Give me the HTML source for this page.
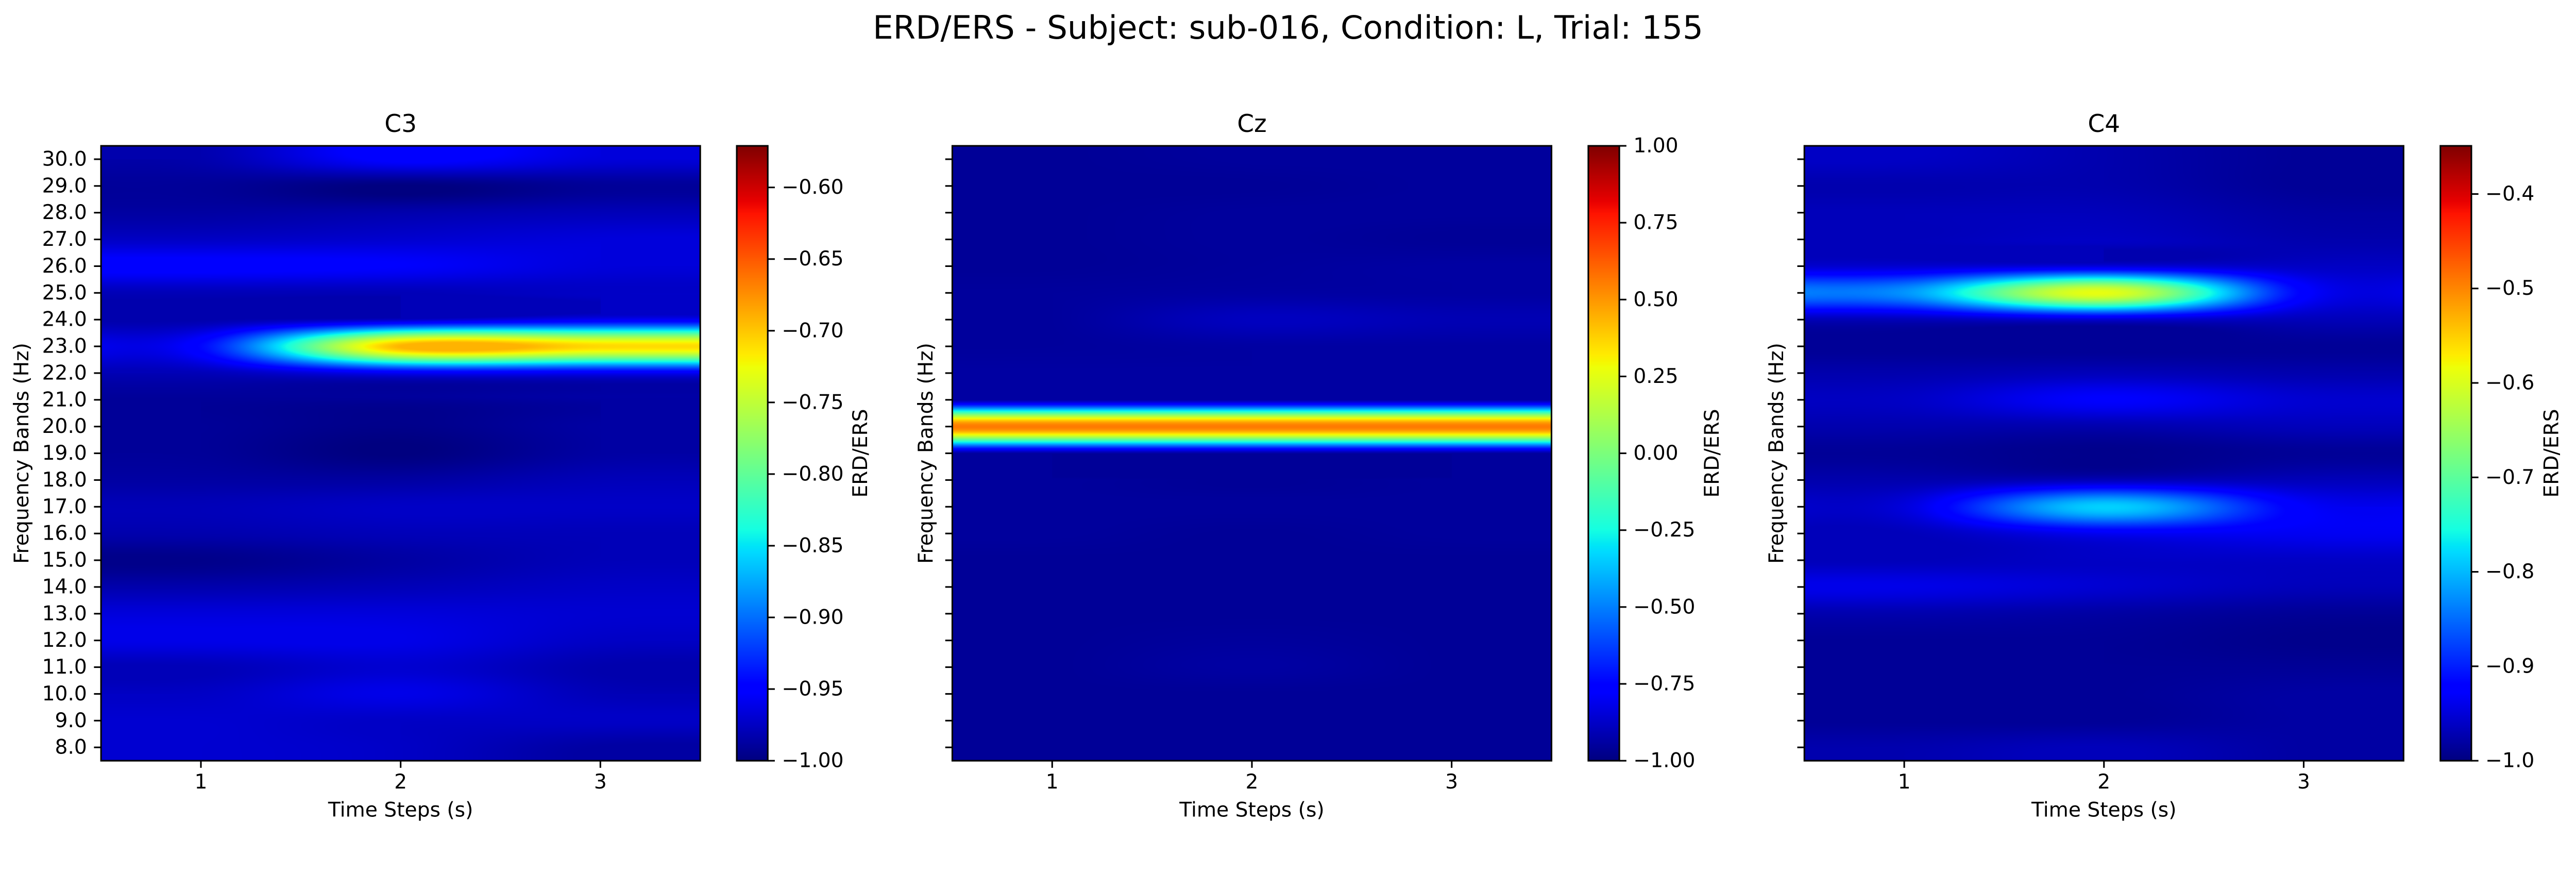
<!DOCTYPE html>
<html><head><meta charset="utf-8">
<meta name="viewport" content="width=5318">
<style>
html,body{margin:0;padding:0;background:#fff;overflow:hidden;}
#fig{position:absolute;left:0;top:0;width:5318px;height:1725px;overflow:hidden;background:#fff;font-family:"DejaVu Sans","Liberation Sans",sans-serif;transform-origin:0 0;}
canvas{position:absolute;display:block;}
svg{position:absolute;left:0;top:0;display:block;}
</style></head>
<body>
<div id="fig">
<canvas id="hm0"></canvas>
<canvas id="hm1"></canvas>
<canvas id="hm2"></canvas>
<canvas id="cb0"></canvas>
<canvas id="cb1"></canvas>
<canvas id="cb2"></canvas>
<svg id="ov" width="5318" height="1725" viewBox="0 0 5318 1725" xmlns="http://www.w3.org/2000/svg">
<text x="2659" y="57" font-size="66.7" text-anchor="middle" dominant-baseline="central">ERD/ERS - Subject: sub-016, Condition: L, Trial: 155</text>
</svg>
</div>
<script>
// ---- data ----
const freqs = [30,29,28,27,26,25,24,23,22,21,20,19,18,17,16,15,14,13,12,11,10,9,8];
const times = [1,2,3];
const channels = ["C3","Cz","C4"];
const c3Values = [
[-0.983,-0.949,-0.966],[-0.991,-1.0,-0.991],[-0.987,-0.983,-0.979],[-0.974,-0.970,-0.966],
[-0.949,-0.953,-0.966],[-0.979,-0.979,-0.974],[-0.983,-0.974,-0.957],[-0.944,-0.691,-0.708],
[-0.979,-0.957,-0.957],[-0.991,-0.991,-0.987],[-0.991,-0.996,-0.987],[-0.991,-1.0,-0.987],
[-0.987,-0.987,-0.979],[-0.979,-0.974,-0.974],[-0.983,-0.979,-0.979],[-0.996,-0.987,-0.979],
[-0.983,-0.979,-0.974],[-0.966,-0.966,-0.970],[-0.961,-0.961,-0.974],[-0.979,-0.970,-0.983],
[-0.974,-0.961,-0.979],[-0.970,-0.974,-0.974],[-0.970,-0.974,-0.987]];
const czValues = [
[-0.96,-0.95,-0.95],[-0.96,-0.96,-0.95],[-0.96,-0.95,-0.95],[-0.96,-0.95,-0.96],
[-0.96,-0.95,-0.94],[-0.95,-0.94,-0.94],[-0.95,-0.89,-0.91],[-0.95,-0.94,-0.94],
[-0.94,-0.94,-0.94],[-0.94,-0.94,-0.94],[0.56,0.56,0.56],[-0.94,-0.94,-0.94],
[-0.95,-0.96,-0.95],[-0.95,-0.95,-0.95],[-0.95,-0.96,-0.95],[-0.96,-0.96,-0.96],
[-0.96,-0.96,-0.96],[-0.96,-0.96,-0.96],[-0.96,-0.95,-0.96],[-0.96,-0.94,-0.96],
[-0.96,-0.96,-0.96],[-0.96,-0.96,-0.96],[-0.96,-0.96,-0.96]];
const c4Values = [
[-0.961,-0.974,-0.987],[-0.974,-0.974,-0.987],[-0.967,-0.967,-0.980],[-0.967,-0.961,-0.974],
[-0.954,-0.948,-0.961],[-0.824,-0.590,-0.922],[-0.967,-0.954,-0.967],[-0.987,-0.987,-0.987],
[-0.974,-0.967,-0.974],[-0.961,-0.928,-0.954],[-0.974,-0.974,-0.967],[-0.987,-0.993,-0.987],
[-0.974,-0.967,-0.967],[-0.948,-0.785,-0.928],[-0.967,-0.935,-0.935],[-0.967,-0.961,-0.961],
[-0.941,-0.954,-0.967],[-0.974,-0.980,-0.987],[-0.987,-0.987,-0.993],[-0.987,-0.987,-0.987],
[-0.987,-0.987,-0.980],[-0.987,-0.987,-0.980],[-0.974,-0.967,-0.980]];
const vmins = [-1.0,-1.0,-1.0];
const vmaxs = [-0.571,1.0,-0.349];
const yTickLabels = ["30.0","29.0","28.0","27.0","26.0","25.0","24.0","23.0","22.0","21.0","20.0","19.0","18.0","17.0","16.0","15.0","14.0","13.0","12.0","11.0","10.0","9.0","8.0"];
const xTickLabels = ["1","2","3"];
const cbTicks0 = [-1.00,-0.95,-0.90,-0.85,-0.80,-0.75,-0.70,-0.65,-0.60];
const cbTicks1 = [-1.00,-0.75,-0.50,-0.25,0.00,0.25,0.50,0.75,1.00];
const cbTicks2 = [-1.0,-0.9,-0.8,-0.7,-0.6,-0.5,-0.4];
const cbDecimals = [2,2,1];

// ---- fit figure to viewport width (uniform scale) ----
const fig=document.getElementById('fig');
function fit(){const s=(window.innerWidth||5318)/5318;
 fig.style.transform=(Math.abs(s-1)<0.002)?'none':`scale(${s})`;}
fit();window.addEventListener('resize',fit);

// ---- layout ----
const allValues=[c3Values,czValues,c4Values];
const allCbTicks=[cbTicks0,cbTicks1,cbTicks2];
const plotLeft=[208.6,1966,3725], plotTop=301, plotW=1237, plotH=1269;
const cbLeft=[1521,3279,5038], cbW=64;
const cbLabelX=[1777,3535,5268], yLabelX=[45,1912,3668];
const TL=14.6, TW=3.3, FS=41.7;
const svg=document.getElementById('ov');
const NS='http://www.w3.org/2000/svg';
function mk(tag,attrs,parent){const e=document.createElementNS(NS,tag);for(const k in attrs)e.setAttribute(k,attrs[k]);(parent||svg).appendChild(e);return e;}
function jet(n){n=Math.max(0,Math.min(1,n));
 const r=n<0.35?0:n<0.66?(n-0.35)/0.31:n<0.89?1:1-(n-0.89)/0.11*0.5;
 const g=n<0.125?0:n<0.375?(n-0.125)/0.25:n<0.64?1:n<0.91?1-(n-0.64)/0.27:0;
 const b=n<0.11?0.5+n/0.11*0.5:n<0.34?1:n<0.65?1-(n-0.34)/0.31:0;
 return [r*255,g*255,b*255];}
function cub(t){const a=-0.5;t=Math.abs(t);if(t<=1)return (a+2)*t*t*t-(a+3)*t*t+1;if(t<2)return a*t*t*t-5*a*t*t+8*a*t-4*a;return 0;}
function weights(pos,n){const i0=Math.floor(pos);const idx=[],w=[];for(let k=-1;k<=2;k++){const i=i0+k;idx.push(Math.max(0,Math.min(n-1,i)));w.push(cub(pos-i));}return [idx,w];}

for(let p=0;p<3;p++){
 const vals=allValues[p], vmin=vmins[p], vmax=vmaxs[p];
 const L=plotLeft[p];
 const xScale=t=>L+(t-(times[0]-0.5))/times.length*plotW;
 const yScale=f=>plotTop+(freqs[0]+0.5-f)/freqs.length*plotH;
 const cv=document.getElementById('hm'+p);
 const W=Math.round(plotW), H=Math.round(plotH);
 cv.width=W;cv.height=H;cv.style.left=L+'px';cv.style.top=plotTop+'px';
 cv.style.width=W+'px';cv.style.height=H+'px';
 const ctx=cv.getContext('2d');const img=ctx.createImageData(W,H);
 const nr=vals.length, nc=vals[0].length;
 const xw=[];for(let x=0;x<W;x++)xw.push(weights((x+0.5)/W*nc-0.5,nc));
 for(let y=0;y<H;y++){
  const [ri,rw]=weights((y+0.5)/H*nr-0.5,nr);
  for(let x=0;x<W;x++){
   const [ci,cw]=xw[x];let s=0;
   let lo=Infinity,hi=-Infinity;
   for(let a=0;a<4;a++){const row=vals[ri[a]];let rs=0;for(let b=0;b<4;b++){rs+=cw[b]*row[ci[b]];
     if(a>=1&&a<=2&&b>=1&&b<=2){const v=row[ci[b]];if(v<lo)lo=v;if(v>hi)hi=v;}}
    s+=rw[a]*rs;}
   if(s<lo)s=lo;if(s>hi)s=hi;
   const c=jet((s-vmin)/(vmax-vmin));const o=(y*W+x)*4;
   img.data[o]=c[0];img.data[o+1]=c[1];img.data[o+2]=c[2];img.data[o+3]=255;}
 }
 ctx.putImageData(img,0,0);
 const cb=document.getElementById('cb'+p);cb.width=cbW;cb.height=H;
 cb.style.left=cbLeft[p]+'px';cb.style.top=plotTop+'px';
 cb.style.width=cbW+'px';cb.style.height=H+'px';
 const cctx=cb.getContext('2d');const cimg=cctx.createImageData(cbW,H);
 for(let y=0;y<H;y++){const c=jet(1-(y+0.5)/H);for(let x=0;x<cbW;x++){const o=(y*cbW+x)*4;cimg.data[o]=c[0];cimg.data[o+1]=c[1];cimg.data[o+2]=c[2];cimg.data[o+3]=255;}}
 cctx.putImageData(cimg,0,0);
 const sp=mk('rect',{x:L,y:plotTop,width:plotW,height:plotH,fill:'none',stroke:'#000','stroke-width':TW});
 
 
 const cs=mk('rect',{x:cbLeft[p],y:plotTop,width:cbW,height:plotH,fill:'none',stroke:'#000','stroke-width':TW});
 
 
 freqs.forEach((f,i)=>{const y=yScale(f);
  const tk=mk('line',{x1:L-TL,x2:L,y1:y,y2:y,stroke:'#000','stroke-width':TW});
  
  
  if(p===0){const t=mk('text',{x:L-29,y:y,'font-size':FS,'text-anchor':'end','dominant-baseline':'central'});t.textContent=yTickLabels[i];
   
   }
 });
 times.forEach((t,i)=>{const x=xScale(t);
  const tk=mk('line',{x1:x,x2:x,y1:plotTop+plotH,y2:plotTop+plotH+TL,stroke:'#000','stroke-width':TW});
  
  
  const tl=mk('text',{x:x,y:1614,'font-size':FS,'text-anchor':'middle','dominant-baseline':'central'});tl.textContent=xTickLabels[i];
  
  
 });
 const xl=mk('text',{x:L+plotW/2,y:1672,'font-size':FS,'text-anchor':'middle','dominant-baseline':'central'});xl.textContent='Time Steps (s)';
 
 
 const yl=mk('text',{x:0,y:0,'font-size':FS,'text-anchor':'middle','dominant-baseline':'central',transform:`translate(${yLabelX[p]},${plotTop+plotH/2}) rotate(-90)`});yl.textContent='Frequency Bands (Hz)';
 
 
 const tt=mk('text',{x:L+plotW/2,y:256,'font-size':50,'text-anchor':'middle','dominant-baseline':'central'});tt.textContent=channels[p];
 
 
 const cbx=cbLeft[p]+cbW;
 allCbTicks[p].forEach(v=>{const y=plotTop+plotH-(v-vmin)/(vmax-vmin)*plotH;
  const tk=mk('line',{x1:cbx,x2:cbx+TL,y1:y,y2:y,stroke:'#000','stroke-width':TW});
  
  
  const s=(v<0?'\u2212':'')+Math.abs(v).toFixed(cbDecimals[p]);
  const t=mk('text',{x:cbx+29,y:y,'font-size':FS,'text-anchor':'start','dominant-baseline':'central'});t.textContent=s;
  
  
 });
 const cl=mk('text',{x:0,y:0,'font-size':FS,'text-anchor':'middle','dominant-baseline':'central',transform:`translate(${cbLabelX[p]},${plotTop+plotH/2}) rotate(-90)`});cl.textContent='ERD/ERS';
 
 
}
</script>
</body></html>
